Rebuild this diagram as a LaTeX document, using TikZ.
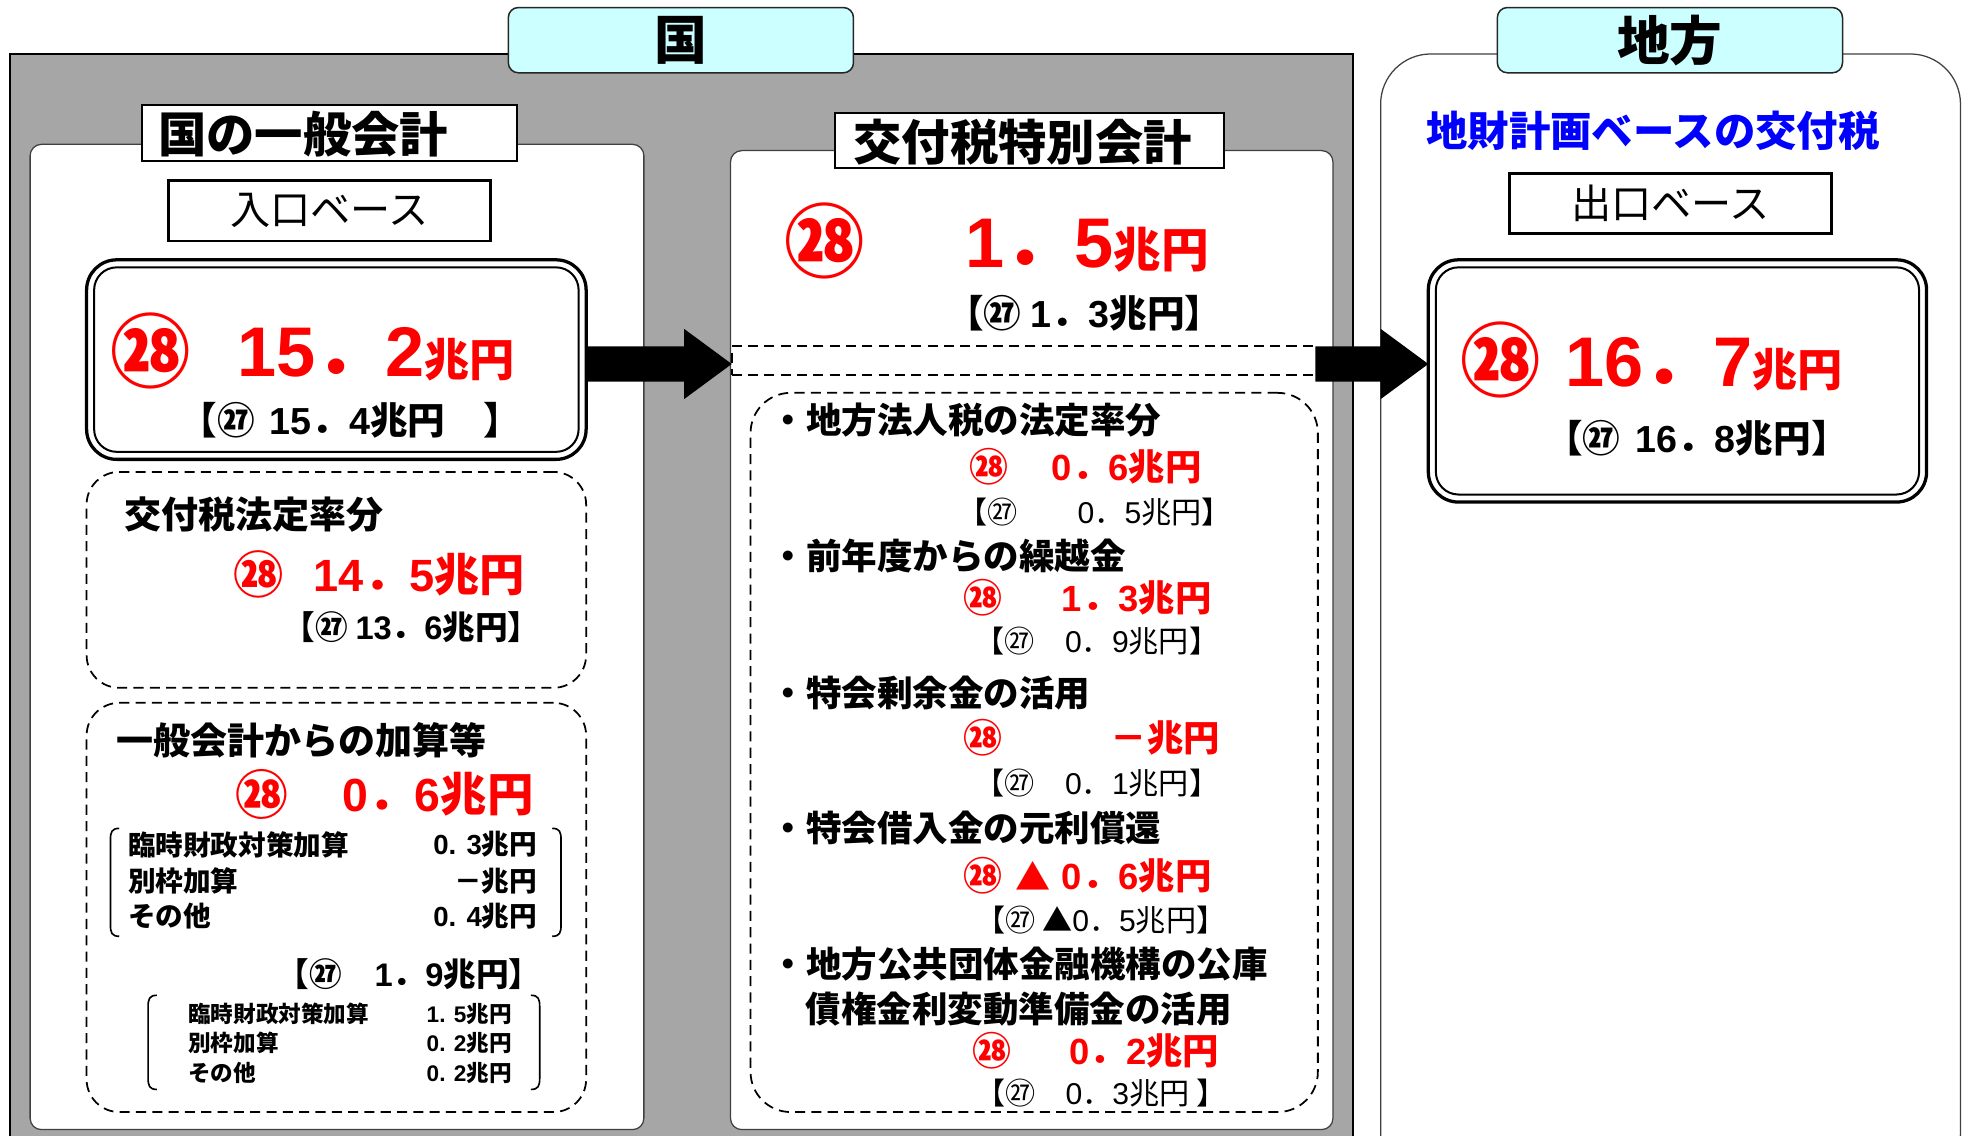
\documentclass[tikz,border=0pt]{standalone}
\usepackage{fontspec}
\setmainfont{Noto Sans CJK JP}
\newfontfamily\dgfont{Liberation Sans}
\usetikzlibrary{calc}
\definecolor{bggray}{HTML}{A6A6A6}
\definecolor{lcyan}{HTML}{CCFFFF}
\definecolor{myred}{HTML}{FF0000}
\definecolor{myblue}{HTML}{0000FF}
\newcommand{\fsz}[1]{\fontsize{#1}{#1}\selectfont}
\newcommand{\D}[1]{{\dgfont #1}}
\newcommand{\blockarrow}[3]{%
  \fill ($(#1)+(0,-14)$) -- ($(#2)+(-#3,-14)$) -- ($(#2)+(-#3,-28)$) -- (#2) -- ($(#2)+(-#3,28)$) -- ($(#2)+(-#3,14)$) -- ($(#1)+(0,14)$) -- cycle;}
\newcommand{\lbrk}[3]{% x, top, bottom
  \draw[line width=1.3] ($(#1,#2)+(7,0)$) .. controls ($(#1,#2)+(1,0)$) and ($(#1,#2)+(0,3)$) .. ($(#1,#2)+(0,9)$) -- ($(#1,#3)+(0,-9)$) .. controls ($(#1,#3)+(0,-3)$) and ($(#1,#3)+(1,0)$) .. ($(#1,#3)+(7,0)$);}
\newcommand{\rbrk}[3]{% x, top, bottom
  \draw[line width=1.3] ($(#1,#2)+(-7,0)$) .. controls ($(#1,#2)+(-1,0)$) and ($(#1,#2)+(0,3)$) .. ($(#1,#2)+(0,9)$) -- ($(#1,#3)+(0,-9)$) .. controls ($(#1,#3)+(0,-3)$) and ($(#1,#3)+(-1,0)$) .. ($(#1,#3)+(-7,0)$);}
\begin{document}
\begin{tikzpicture}[x=1pt,y=-1pt,
  every node/.style={inner sep=0pt, outer sep=0pt},
  labelbox/.style={draw=black!85, fill=lcyan, rounded corners=8, line width=1.2, minimum width=275, minimum height=52, font=\fsz{42}\bfseries},
  panel/.style={draw=black!75, fill=white, rounded corners=9, line width=1},
  titlebox/.style={draw, fill=white, line width=1.5, minimum height=44},
  basebox/.style={draw, fill=white, line width=2.2, minimum width=257, minimum height=48, font=\fsz{32}},
  outerdbl/.style={draw, fill=white, line width=2.6, rounded corners=24},
  innerdbl/.style={draw, line width=1.6, rounded corners=18},
  dashbox/.style={draw, line width=1.4, dash pattern=on 8pt off 5pt, rounded corners=26},
  head/.style={anchor=west, font=\fsz{29.5}\bfseries},
  item/.style={anchor=west, font=\fsz{28.3}\bfseries},
  rc/.style={text=myred, font=\fsz{#1}\bfseries},
  rnum/.style={text=myred, anchor=west, font=\fsz{#1}\bfseries},
  prev/.style={font=\fsz{#1}\bfseries},
  prevl/.style={font=\fsz{#1}},
  row/.style={font=\fsz{22}\bfseries},
  srow/.style={font=\fsz{18}\bfseries}
]
\useasboundingbox (0,0) rectangle (1568,905);
\clip (0,0) rectangle (1568,905);
\fill[white] (0,0) rectangle (1568,905);

% ---------- national area ----------
\node[draw, line width=1.5, fill=bggray, minimum width=1070, minimum height=880, anchor=north west] (kuni) at (8,43) {};
\node[labelbox] (kunil) at (542.5,32) {国};

% right panel
\node[draw=black!75, line width=1, fill=white, rounded corners=40, minimum width=462, minimum height=900, anchor=north west] (chiho) at (1100,43) {};
\node[labelbox] (chihol) at (1330.5,32) {地方};

% ---------- left panel ----------
\node[panel, minimum width=489, minimum height=785] (lp) at (268.5,507.5) {};
\node[titlebox, minimum width=299] (lt) at (262.5,106) {};
\node[font=\fsz{38.5}\bfseries, anchor=west] (ltt) at (126,107) {国の一般会計};
\node[basebox] (iri) at (262.5,168) {入口ベース};

\node[outerdbl, minimum width=398, minimum height=159] (b1) at (268,286.5) {};
\node[innerdbl, minimum width=386, minimum height=147] (b1i) at (b1) {};
\node[rc=64] (b1c) at (120,280) {㉘};
\node[text=myred, font=\fsz{56}\bfseries, anchor=base west] (b1n) at (189,300) {\D{15}．\D{2}{\fsz{36}兆円}};
\node[prev=30] (b1p) at (279,335) {【㉗\hspace{12pt}\D{15}．\D{4}兆円\hspace{30pt}】};

\node[dashbox, minimum width=398, minimum height=172] (d1) at (268,462) {};
\node[head] (d1h) at (99,410) {交付税法定率分};
\node[rc=40] (d1c) at (206,458) {㉘};
\node[rnum=36] (d1n) at (250,458) {\D{14}．\D{5}兆円};
\node[prev=26] (d1p) at (328,500) {【㉗ \D{13}．\D{6}兆円】};

\node[dashbox, minimum width=398, minimum height=326] (d2) at (268,723) {};
\node[head] (d2h) at (93,590) {一般会計からの加算等};
\node[rc=42] (d2c) at (209,633) {㉘};
\node[rnum=37] (d2n) at (273,633) {\D{0}．\D{6}兆円};
\lbrk{88}{660}{746}
\rbrk{447}{660}{746}
\node[row, anchor=west] (r1a) at (102,673) {臨時財政対策加算};
\node[row, anchor=east] (r1b) at (428,673) {\D{0. 3}兆円};
\node[row, anchor=west] (r2a) at (102,702) {別枠加算};
\node[row, anchor=east] (r2b) at (428,702) {－兆円};
\node[row, anchor=west] (r3a) at (102,730) {その他};
\node[row, anchor=east] (r3b) at (428,730) {\D{0. 4}兆円};
\node[prev=26] (d2p) at (326,776) {【㉗　\D{1}．\D{9}兆円】};
\lbrk{118}{793}{868}
\rbrk{430}{793}{868}
\node[srow, anchor=west] (s1a) at (150,808) {臨時財政対策加算};
\node[srow, anchor=west] (s1b) at (340,808) {\D{1. 5}兆円};
\node[srow, anchor=west] (s2a) at (150,831) {別枠加算};
\node[srow, anchor=west] (s2b) at (340,831) {\D{0. 2}兆円};
\node[srow, anchor=west] (s3a) at (150,855) {その他};
\node[srow, anchor=west] (s3b) at (340,855) {\D{0. 2}兆円};

% ---------- middle panel ----------
\node[panel, minimum width=480, minimum height=780] (mp) at (822,510) {};
\node[titlebox, minimum width=310] (mt) at (820,112) {};
\node[font=\fsz{38.5}\bfseries, anchor=west] (mtt) at (680,113) {交付税特別会計};
\node[rc=64] (mc) at (657,192) {㉘};
\node[text=myred, font=\fsz{56}\bfseries, anchor=base west] (mn) at (769,213) {\D{1}．\D{5}{\fsz{38}兆円}};
\node[prev=30] (mpv) at (864,250) {【㉗ \D{1}．\D{3}兆円】};

\node[draw, line width=1.5, dash pattern=on 8pt off 5pt, minimum width=467, minimum height=23, anchor=west] (band) at (583,287.5) {};

\node[dashbox, rounded corners=32, minimum width=452, minimum height=573] (d3) at (824,599.5) {};
\node[item] (i1) at (614,335) {・地方法人税の法定率分};
\node[rc=31] (i1c) at (788,372) {㉘};
\node[rnum=29] (i1n) at (838,372) {\D{0}．\D{6}兆円};
\node[prevl=24] (i1p) at (872,408) {【㉗　　\D{0}．\D{5}兆円】};
\node[item] (i2) at (614,443) {・前年度からの繰越金};
\node[rc=31] (i2c) at (783,476) {㉘};
\node[rnum=29] (i2n) at (846,476) {\D{1}．\D{3}兆円};
\node[prevl=24] (i2p) at (874,511) {【㉗　\D{0}．\D{9}兆円】};
\node[item] (i3) at (614,552) {・特会剰余金の活用};
\node[rc=31] (i3c) at (783,588) {㉘};
\node[rnum=29] (i3n) at (885,588) {－兆円};
\node[prevl=24] (i3p) at (874,624) {【㉗　\D{0}．\D{1}兆円】};
\node[item] (i4) at (614,660) {・特会借入金の元利償還};
\node[rc=31] (i4c) at (783,698) {㉘};
\node[rc=28] (i4t) at (823,698) {▲};
\node[rnum=29] (i4n) at (846,698) {\D{0}．\D{6}兆円};
\node[prevl=24] (i4p) at (877,733) {【㉗ ▲\D{0}．\D{5}兆円】};
\node[item] (i5) at (614,768) {・地方公共団体金融機構の公庫};
\node[item] (i5b) at (642,804) {債権金利変動準備金の活用};
\node[rc=31] (i5c) at (790,837) {㉘};
\node[rnum=29] (i5n) at (852,837) {\D{0}．\D{2}兆円};
\node[prevl=24] (i5p) at (877,871) {【㉗　\D{0}．\D{3}兆円 】};

% ---------- right panel contents ----------
\node[text=myblue, font=\fsz{33}\bfseries] (rt) at (1317,104) {地財計画ベースの交付税};
\node[basebox] (deg) at (1331,162) {出口ベース};
\node[outerdbl, minimum width=397, minimum height=193] (b3) at (1336.5,303.5) {};
\node[innerdbl, minimum width=385, minimum height=181] (b3i) at (b3) {};
\node[rc=64] (b3c) at (1196,287) {㉘};
\node[text=myred, font=\fsz{56}\bfseries, anchor=base west] (b3n) at (1247,308) {\D{16}．\D{7}{\fsz{36}兆円}};
\node[prev=30] (b3p) at (1352,349) {【㉗\hspace{12pt}\D{16}．\D{8}兆円】};

% ---------- arrows ----------
\coordinate (a1s) at (b1.east |- 0,290);
\coordinate (a1e) at (band.west |- 0,290);
\blockarrow{a1s}{a1e}{38}
\coordinate (a2s) at (1048,290);
\coordinate (a2e) at (b3.west |- 0,290);
\blockarrow{a2s}{a2e}{38}
\end{tikzpicture}
\end{document}
